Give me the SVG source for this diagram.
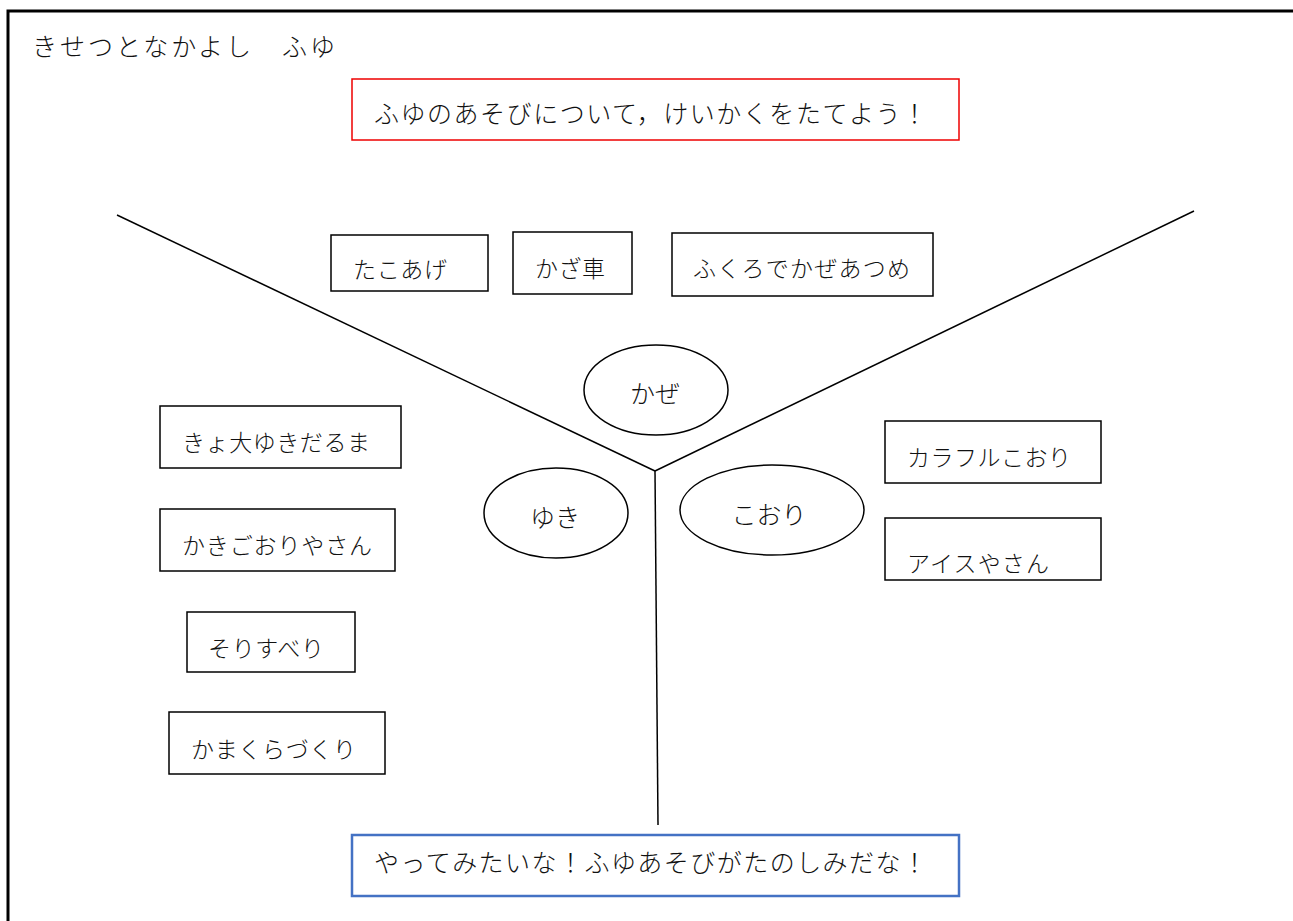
<svg xmlns="http://www.w3.org/2000/svg" width="1293" height="921" viewBox="0 0 1293 921">
<style>
text{font-family:"Noto Sans CJK JP","Noto Sans CJK SC",sans-serif;fill:#111;font-weight:300}
.box{fill:#fff;stroke:#000;stroke-width:1.5}
.ell{fill:#fff;stroke:#000;stroke-width:1.5}
.ln{stroke:#000;stroke-width:1.5;fill:none}
.t24{font-size:23px}
.t26{font-size:25px}
</style>
<rect width="1293" height="921" fill="#fff"/>
<g id="frame"><path d="M8 921V11H1293" fill="none" stroke="#000" stroke-width="3"/></g>
<g id="title"><text x="32" y="56" class="t26" textLength="303" lengthAdjust="spacing">きせつとなかよし　ふゆ</text></g>
<g id="connectors">
<line class="ln" x1="117" y1="215" x2="655" y2="471"/>
<line class="ln" x1="1194" y1="211" x2="655" y2="471"/>
<line class="ln" x1="655" y1="471" x2="658" y2="825"/>
</g>
<g id="goal"><rect x="352" y="79" width="607" height="61" fill="#fff" stroke="#e00" stroke-width="1.5"/>
<text x="374" y="123" class="t26" textLength="553" lengthAdjust="spacing">ふゆのあそびについて，けいかくをたてよう！</text></g>
<g id="takoage"><rect class="box" x="331" y="235" width="157" height="56"/><text x="353" y="278" class="t24" textLength="94" lengthAdjust="spacing">たこあげ</text></g>
<g id="kazaguruma"><rect class="box" x="513" y="232" width="119" height="62"/><text x="535" y="277" class="t24" textLength="70" lengthAdjust="spacing">かざ車</text></g>
<g id="fukuro"><rect class="box" x="672" y="233" width="261" height="63"/><text x="693" y="277" class="t24" textLength="217" lengthAdjust="spacing">ふくろでかぜあつめ</text></g>
<g id="kaze"><ellipse class="ell" cx="656" cy="390" rx="72" ry="45"/><text x="655" y="403" class="t26" text-anchor="middle">かぜ</text></g>
<g id="yuki"><ellipse class="ell" cx="556" cy="513" rx="72" ry="45"/><text x="555" y="527" class="t26" text-anchor="middle">ゆき</text></g>
<g id="koori"><ellipse class="ell" cx="772" cy="510" rx="92" ry="45"/><text x="769" y="524" class="t26" text-anchor="middle">こおり</text></g>
<g id="yukidaruma"><rect class="box" x="160" y="406" width="241" height="62"/><text x="182" y="451" class="t24" textLength="188" lengthAdjust="spacing">きょ大ゆきだるま</text></g>
<g id="kakigoori"><rect class="box" x="160" y="509" width="235" height="62"/><text x="182" y="554" class="t24" textLength="190" lengthAdjust="spacing">かきごおりやさん</text></g>
<g id="sori"><rect class="box" x="187" y="612" width="168" height="60"/><text x="208" y="657" class="t24" textLength="116" lengthAdjust="spacing">そりすべり</text></g>
<g id="kamakura"><rect class="box" x="169" y="712" width="216" height="62"/><text x="191" y="758" class="t24" textLength="165" lengthAdjust="spacing">かまくらづくり</text></g>
<g id="colorful"><rect class="box" x="885" y="421" width="216" height="62"/><text x="907" y="466" class="t24" textLength="164" lengthAdjust="spacing">カラフルこおり</text></g>
<g id="ice"><rect class="box" x="885" y="518" width="216" height="62"/><text x="907" y="572" class="t24" textLength="142" lengthAdjust="spacing">アイスやさん</text></g>
<g id="reflection"><rect x="352" y="835" width="607" height="61" fill="#fff" stroke="#4472C4" stroke-width="2.5"/>
<text x="374" y="872" class="t26" textLength="553" lengthAdjust="spacing">やってみたいな！ふゆあそびがたのしみだな！</text></g>
</svg>
